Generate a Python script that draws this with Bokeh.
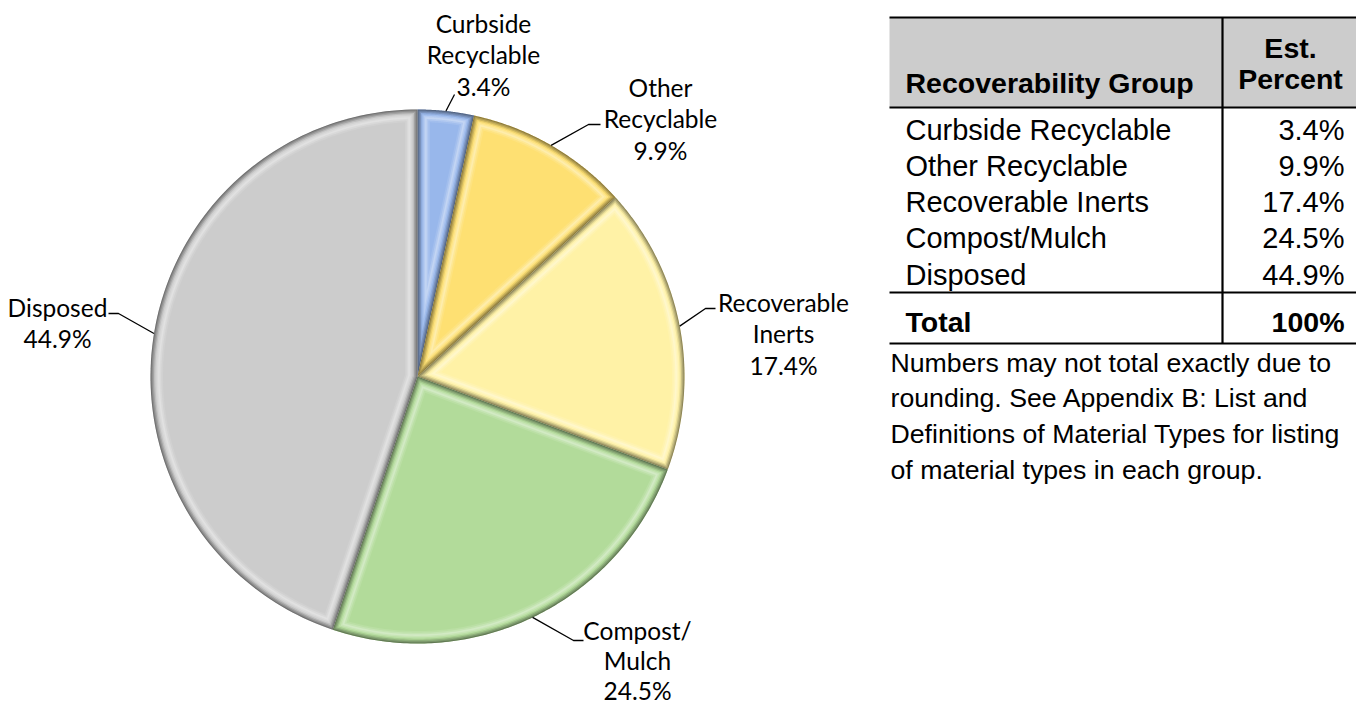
import numpy as np
from bokeh.plotting import figure
from bokeh.models import Range1d
from bokeh.core.properties import value
from bokeh.embed import file_html
from bokeh.resources import INLINE

# ---------------- data ----------------
categories = ["Curbside Recyclable", "Other Recyclable", "Recoverable Inerts",
              "Compost/Mulch", "Disposed"]
percents = [3.4, 9.9, 17.4, 24.5, 44.9]
pct_labels = ["3.4%", "9.9%", "17.4%", "24.5%", "44.9%"]
pie_label_lines = [["Curbside", "Recyclable", "3.4%"],
                   ["Other", "Recyclable", "9.9%"],
                   ["Recoverable", "Inerts", "17.4%"],
                   ["Compost/", "Mulch", "24.5%"],
                   ["Disposed", "44.9%"]]
colors = ["#98B7EB", "#FEE072", "#FFF2A6", "#B2DB9A", "#CCCCCC"]
header_group = "Recoverability Group"
header_pct = ["Est.", "Percent"]
total_text = ["Total", "100%"]
note_lines = ["Numbers may not total exactly due to",
              "rounding. See Appendix B: List and",
              "Definitions of Material Types for listing",
              "of material types in each group."]

# ---------------- layout ----------------
W, H = 1356, 706
PAGE_H = 707


def Y(sy):
    return PAGE_H - sy


p = figure(width=W, height=H, output_backend="svg", toolbar_location=None,
           x_range=Range1d(0, W), y_range=Range1d(PAGE_H - H, PAGE_H),
           x_axis_location=None, y_axis_location=None, min_border=0,
           background_fill_color="white", border_fill_color="white")
p.outline_line_color = None
p.xgrid.visible = False
p.ygrid.visible = False


def mix(hexc, f):
    c = np.array([int(hexc[i:i + 2], 16) for i in (1, 3, 5)], dtype=float)
    if f >= 0:
        c = c + (255 - c) * f
    else:
        c = c * (1 + f)
    c = np.clip(np.round(c), 0, 255).astype(int)
    return "#%02x%02x%02x" % tuple(c)


# ---------------- pie ----------------
CX, CY, R = 417.0, Y(376), 267.0
total = float(sum(percents))
cum = np.concatenate([[0.0], np.cumsum(percents)]) / total
start_deg = 90 - 360 * cum[:-1]
end_deg = 90 - 360 * cum[1:]
start_rad = np.radians(start_deg)
end_rad = np.radians(end_deg)

p.wedge(x=[CX] * len(percents), y=[CY] * len(percents), radius=R,
        start_angle=list(start_rad), end_angle=list(end_rad), direction="clock",
        fill_color=colors, line_color=None)

bands = [(0.0, -0.45), (1.0, -0.32), (2.2, -0.2), (3.5, -0.07),
         (4.8, 0.10), (6.2, 0.28), (7.6, 0.42), (9.2, 0.25), (10.8, 0.10), (12.5, 0.0)]


def inset_poly(a0, a1, d, n=120):
    th = a1 - a0
    mid = 0.5 * (a0 + a1)
    if d <= 0:
        vx, vy = CX, CY
    else:
        dist = d / np.sin(th / 2)
        vx, vy = CX + dist * np.cos(mid), CY + dist * np.sin(mid)
    rr = R - d
    delta = np.arcsin(d / rr)
    angs = np.linspace(a0 + delta, a1 - delta, n)
    xs = [vx] + list(CX + rr * np.cos(angs))
    ys = [vy] + list(CY + rr * np.sin(angs))
    return xs, ys


for d, f in bands:
    pxs, pys, pcs = [], [], []
    for i in range(len(percents)):
        xs, ys = inset_poly(end_rad[i], start_rad[i], d)
        pxs.append(xs)
        pys.append(ys)
        pcs.append(mix(colors[i], f))
    p.patches(xs=pxs, ys=pys, fill_color=pcs, line_color=None)

# leader lines: start on the rim at each slice's middle angle
mid_rad = 0.5 * (start_rad + end_rad)
leader_elbows = [[(454, 94)],
                 [(588, 124), (600, 124)],
                 [(705, 308), (715, 308)],
                 [(573, 640), (583, 640)],
                 [(118, 313), (108, 313)]]
lx, ly = [], []
for i in range(len(percents)):
    xs = [CX + R * np.cos(mid_rad[i])] + [e[0] for e in leader_elbows[i]]
    ys = [CY + R * np.sin(mid_rad[i])] + [Y(e[1]) for e in leader_elbows[i]]
    lx.append(xs)
    ly.append(ys)
p.multi_line(xs=lx, ys=ly, line_color="black", line_width=1.3)

label_anchor = [(483, 23), (660, 87), (783, 302), (637, 630), (57, 307)]
LSP = [31.3, 31.3, 31.3, 30.0, 31.3]
tx, ty, tt = [], [], []
for i, lines in enumerate(pie_label_lines):
    ax, ay = label_anchor[i]
    for k, s in enumerate(lines):
        tx.append(ax)
        ty.append(Y(ay + k * LSP[i]))
        tt.append(s)
p.text(x=tx, y=ty, text=tt, text_align="center", text_baseline="middle",
       text_font=value("Lato"), text_font_size=value("24.5px"), text_color="black")

# ---------------- table ----------------
TL, TR, TDIV = 889, 1356, 1222
T_TOP, T_HEAD, T_LINE, T_BOT = 17, 107, 292, 343

p.quad(left=[TL], right=[TR], top=[Y(T_TOP)], bottom=[Y(T_HEAD)],
       fill_color="#CCCCCC", line_color=None)
p.segment(x0=[TL, TL, TL, TL, TDIV], x1=[TR, TR, TR, TR, TDIV],
          y0=[Y(T_TOP), Y(T_HEAD), Y(T_LINE), Y(T_BOT), Y(T_TOP)],
          y1=[Y(T_TOP), Y(T_HEAD), Y(T_LINE), Y(T_BOT), Y(T_BOT)],
          line_color="black", line_width=2.2)

FONT = value("Liberation Sans")
# header
p.text(x=[905], y=[Y(82)], text=[header_group], text_align="left",
       text_baseline="middle", text_font=FONT, text_font_size=value("28.5px"),
       text_font_style="bold", text_color="black")
p.text(x=[1290, 1290], y=[Y(47), Y(78)], text=header_pct, text_align="center",
       text_baseline="middle", text_font=FONT, text_font_size=value("28.5px"),
       text_font_style="bold", text_color="black")

# rows
row_y = [Y(129 + 36.3 * k) for k in range(len(categories))]
p.text(x=[905] * len(categories), y=row_y, text=categories, text_align="left",
       text_baseline="middle", text_font=FONT, text_font_size=value("29px"),
       text_color="black")
p.text(x=[1344] * len(pct_labels), y=row_y, text=pct_labels, text_align="right",
       text_baseline="middle", text_font=FONT, text_font_size=value("29px"),
       text_color="black")

# total
p.text(x=[905], y=[Y(321)], text=[total_text[0]], text_align="left",
       text_baseline="middle", text_font=FONT, text_font_size=value("28.5px"),
       text_font_style="bold", text_color="black")
p.text(x=[1344], y=[Y(321)], text=[total_text[1]], text_align="right",
       text_baseline="middle", text_font=FONT, text_font_size=value("28.5px"),
       text_font_style="bold", text_color="black")

# note
p.text(x=[890] * len(note_lines), y=[Y(362 + 35.8 * k) for k in range(len(note_lines))],
       text=note_lines, text_align="left", text_baseline="middle", text_font=FONT,
       text_font_size=value("26.7px"), text_color="black")

open("out.html", "w").write(file_html(p, INLINE))
